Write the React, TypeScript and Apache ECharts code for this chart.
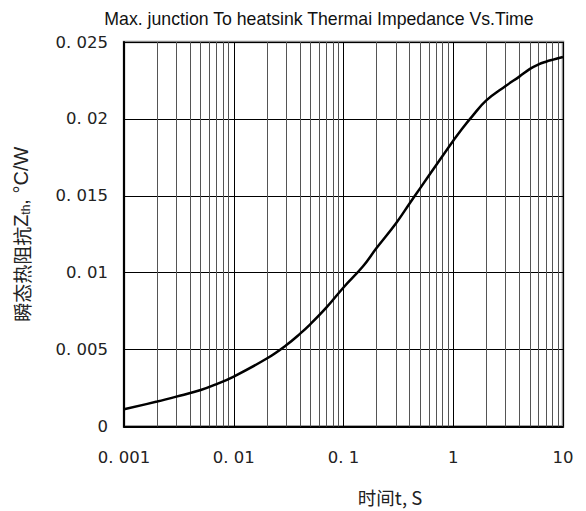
import React, { useEffect, useRef } from "react";
import * as echarts from "echarts";

const times = [0.001, 0.002, 0.003, 0.005, 0.007, 0.01, 0.02, 0.03, 0.04, 0.05, 0.07, 0.1, 0.15, 0.2, 0.3, 0.4, 0.5, 0.7, 1, 1.2, 1.5, 2, 3, 4, 5, 6, 7, 8, 10];
const impedance = [0.00112, 0.00162, 0.00194, 0.00237, 0.00276, 0.00325, 0.00442, 0.00528, 0.00602, 0.00666, 0.00774, 0.00904, 0.0104, 0.0116, 0.0132, 0.0145, 0.0155, 0.017, 0.01858, 0.01935, 0.0202, 0.0212, 0.02214, 0.02275, 0.02325, 0.02355, 0.02372, 0.02384, 0.02402];
const minorGridTimes = [
  0.002, 0.003, 0.004, 0.005, 0.006, 0.007, 0.008, 0.009,
  0.02, 0.03, 0.04, 0.05, 0.06, 0.07, 0.08, 0.09,
  0.2, 0.3, 0.4, 0.5, 0.6, 0.7, 0.8, 0.9,
  2, 3, 4, 5, 6, 7, 8, 9,
];
const xTickLabels: Record<string, string> = { "0.001": "0. 001", "0.01": "0. 01", "0.1": "0. 1", "1": "1", "10": "10" };
const yTickLabels: Record<string, string> = { "0": "0", "0.005": "0. 005", "0.01": "0. 01", "0.015": "0. 015", "0.02": "0. 02", "0.025": "0. 025" };

const title = "Max. junction To heatsink Thermai Impedance Vs.Time";

export default function App() {
  const ref = useRef<HTMLDivElement>(null);
  useEffect(() => {
    if (!ref.current) return;
    const chart = echarts.init(ref.current, undefined, { renderer: "svg" });
    const fmt = (v: number) => String(parseFloat(v.toPrecision(6)));
    chart.setOption({
      animation: false,
      backgroundColor: "#fff",
      title: {
        text: title,
        left: 314,
        top: 5,
        textAlign: "center",
        textStyle: { fontFamily: "'Liberation Sans Narrow', 'Liberation Sans', Arial", fontSize: 17.7, fontWeight: "normal", color: "#111" },
      },
      grid: { left: 124, right: 23, top: 42, bottom: 82, show: true, borderColor: "#888", borderWidth: 2.5, backgroundColor: "transparent" },
      xAxis: {
        type: "log",
        logBase: 10,
        min: 0.001,
        max: 10,
        name: "时间t, S",
        nameLocation: "middle",
        nameGap: 61,
        nameTextStyle: { fontFamily: "'Noto Sans CJK SC', 'Liberation Sans'", fontSize: 18.5, color: "#222", padding: [0, 0, 0, 93] },
        axisLine: { lineStyle: { color: "#000", width: 2 } },
        axisTick: { show: false },
        axisLabel: {
          margin: 23,
          fontFamily: "'DejaVu Sans', 'Liberation Sans'",
          fontSize: 16.5,
          color: "#222",
          formatter: (v: number) => xTickLabels[fmt(v)] ?? fmt(v),
        },
        splitLine: { show: true, lineStyle: { color: "#000", width: 1 } },
      },
      yAxis: {
        type: "value",
        min: 0,
        max: 0.025,
        interval: 0.005,
        name: "{cjk|瞬态热阻抗}{z|Z}{sub|th}{z|, °C/W}",
        nameLocation: "middle",
        nameGap: 92,
        nameTextStyle: {
          color: "#222",
          rich: {
            cjk: { fontFamily: "'Noto Sans CJK SC'", fontSize: 19, color: "#222" },
            z: { fontFamily: "'Liberation Sans', Arial", fontSize: 20, color: "#222" },
            sub: { fontFamily: "'Liberation Sans', Arial", fontSize: 12, color: "#222", padding: [10, 0, 0, 0] },
          },
        },
        axisLine: { show: true, lineStyle: { color: "#000", width: 2 } },
        axisTick: { show: false },
        axisLabel: {
          margin: 16,
          fontFamily: "'DejaVu Sans', 'Liberation Sans'",
          fontSize: 16.5,
          color: "#222",
          formatter: (v: number) => yTickLabels[fmt(v)] ?? fmt(v),
        },
        splitLine: { show: true, lineStyle: { color: "#000", width: 1 } },
      },
      series: [
        {
          type: "line",
          data: times.map((t, i) => [t, impedance[i]]),
          smooth: 0.4,
          showSymbol: false,
          symbol: "none",
          lineStyle: { color: "#000", width: 2.5 },
          silent: true,
          z: 5,
          markLine: {
            silent: true,
            precision: 10,
            symbol: ["none", "none"],
            label: { show: false },
            lineStyle: { color: "#555", width: 1, type: "solid" },
            emphasis: { disabled: true },
            data: minorGridTimes.map((t) => ({ xAxis: t })),
            z: 1,
          },
        },
      ],
    });
    return () => chart.dispose();
  }, []);
  return <div ref={ref} style={{ position: "absolute", left: 0, top: 0, width: 586, height: 511 }} />;
}
